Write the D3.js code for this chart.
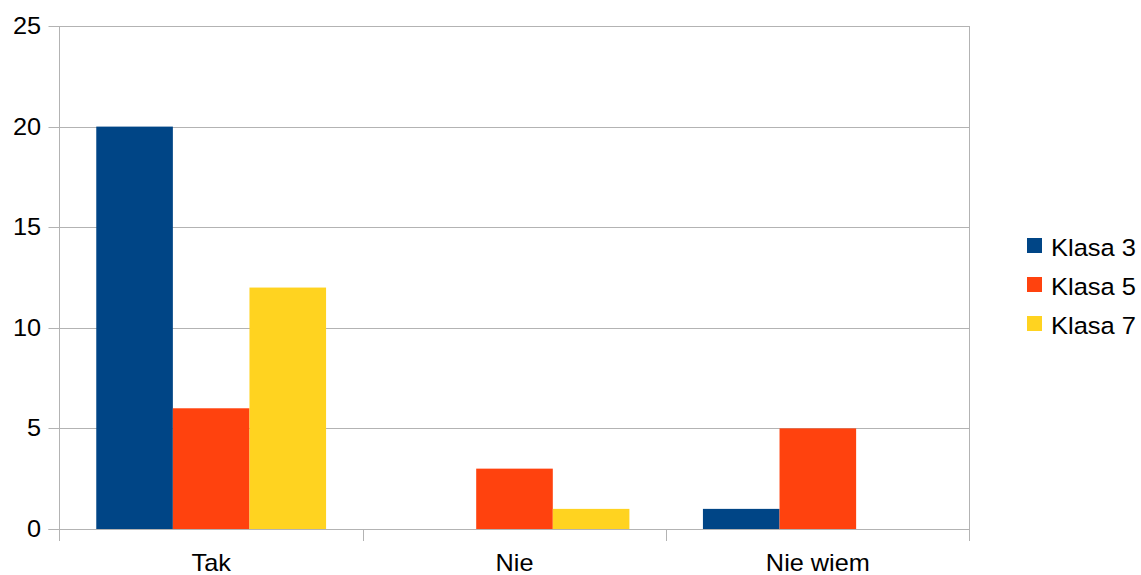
<!DOCTYPE html>
<html><head><meta charset="utf-8">
<script src="https://cdn.jsdelivr.net/npm/d3@7"></script>
<style>body{margin:0;background:#fff}svg{display:block}text{font-family:"Liberation Sans",Arial,sans-serif;fill:#000}</style>
</head><body>
<svg id="c" width="1141" height="575"></svg>
<script>
const categories = ["Tak", "Nie", "Nie wiem"];
const seriesNames = ["Klasa 3", "Klasa 5", "Klasa 7"];
const klasa3 = [20, 0, 1];
const klasa5 = [6, 3, 5];
const klasa7 = [12, 1, 0];
const yTicks = [0, 5, 10, 15, 20, 25];
const colors = ["#004586", "#ff420e", "#ffd320"];

const series = [klasa3, klasa5, klasa7];
const svg = d3.select("#c");
const L = 59.5, R = 969.5, T = 26, B = 529;
const x = d3.scaleBand().domain(categories).range([L, R]).paddingInner(0).paddingOuter(0);
const x1 = d3.scaleBand().domain(seriesNames).range([0, x.bandwidth()]).paddingOuter(0.48).paddingInner(0);
const y = d3.scaleLinear().domain([0, 25]).range([B, T]);
const grid = "#b3b3b3";

// gridlines
svg.append("g").selectAll("line").data(yTicks).join("line")
  .attr("x1", L - 11).attr("x2", R).attr("y1", d => Math.round(y(d)) + 0.5).attr("y2", d => Math.round(y(d)) + 0.5)
  .attr("stroke", grid).attr("stroke-width", 1);
// vertical borders
svg.append("line").attr("x1", L).attr("x2", L).attr("y1", y(25)).attr("y2", B + 12).attr("stroke", grid);
svg.append("line").attr("x1", R).attr("x2", R).attr("y1", y(25)).attr("y2", B + 12).attr("stroke", grid);
// category ticks
svg.append("g").selectAll("line").data(categories.slice(1)).join("line")
  .attr("x1", d => Math.round(x(d)) + 0.5).attr("x2", d => Math.round(x(d)) + 0.5)
  .attr("y1", B).attr("y2", B + 12).attr("stroke", grid);

// bars
const g = svg.append("g");
categories.forEach((c, ci) => {
  seriesNames.forEach((s, si) => {
    const v = series[si][ci];
    if (v <= 0) return;
    g.append("rect")
      .attr("x", x(c) + x1(s)).attr("width", x1.bandwidth())
      .attr("y", y(v)).attr("height", y(0) - y(v))
      .attr("fill", colors[si]);
  });
});
// baseline redraw
svg.append("line").attr("x1", L - 11).attr("x2", R).attr("y1", Math.round(y(0)) + 0.5).attr("y2", Math.round(y(0)) + 0.5).attr("stroke", grid);

// y labels
svg.append("g").selectAll("text").data(yTicks).join("text")
  .attr("transform", d => `translate(41,${y(d)}) scale(1.1,1)`).attr("dy", "0.35em").attr("text-anchor", "end")
  .style("font-size", "23px").text(d => d);
// x labels
svg.append("g").selectAll("text").data(categories).join("text")
  .attr("transform", d => `translate(${x(d) + x.bandwidth() / 2},571) scale(1.1,1)`).attr("text-anchor", "middle")
  .style("font-size", "23px").text(d => d);

// legend
const lg = svg.append("g").selectAll("g").data(seriesNames).join("g")
  .attr("transform", (d, i) => `translate(1027,${238 + i * 39})`);
lg.append("rect").attr("width", 15).attr("height", 15).attr("fill", (d, i) => colors[i]);
lg.append("text").attr("transform", "translate(24,18) scale(1.04,1)").style("font-size", "24.5px").text(d => d);
</script>
</body></html>
